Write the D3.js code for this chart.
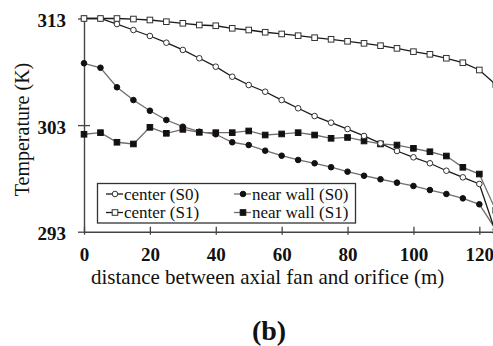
<!DOCTYPE html>
<html>
<head>
<meta charset="utf-8">
<script src="https://cdn.jsdelivr.net/npm/d3@7"></script>
<style>
  body { margin: 0; background: #fff; }
  svg { display: block; font-family: "Liberation Serif", "Times New Roman", serif; }
</style>
</head>
<body>
<div id="chart"></div>
<script>
const distance = [0, 5, 10, 15, 20, 25, 30, 35, 40, 45, 50, 55, 60, 65, 70, 75, 80, 85, 90, 95, 100, 105, 110, 115, 120, 125];

const centerS0 = [313.0, 313.0, 312.48, 311.92, 311.36, 310.73, 310.05, 309.27, 308.48, 307.54, 306.76, 306.13, 305.35,
  304.58, 303.85, 303.23, 302.63, 301.98, 301.29, 300.57, 299.98, 299.42, 298.72, 298.1, 297.48, 292.9];
const centerS1 = [313.0, 313.0, 313.0, 312.95, 312.86, 312.7, 312.55, 312.39, 312.32, 312.08, 311.92, 311.71, 311.55,
  311.39, 311.2, 311.05, 310.86, 310.67, 310.45, 310.2, 309.89, 309.64, 309.27, 308.85, 308.17, 306.8];
const nearWallS0 = [308.8, 308.38, 306.55, 305.35, 304.35, 303.48, 302.85, 302.38, 302.14, 301.39, 301.13, 300.6, 300.13,
  299.73, 299.42, 299.05, 298.63, 298.25, 297.92, 297.6, 297.29, 296.91, 296.54, 296.13, 295.57, 293.2];
const nearWallS1 = [302.14, 302.29, 301.39, 301.23, 302.79, 302.23, 302.6, 302.32, 302.29, 302.29, 302.45, 302.07, 302.17,
  302.29, 302.07, 301.76, 301.84, 301.51, 301.23, 301.13, 300.82, 300.5, 300.1, 299.04, 298.41, 295.0];

const xTicks = [0, 20, 40, 60, 80, 100, 120];
const yTicks = [293, 303, 313];

const width = 493;
const height = 346;

const svg = d3.select('#chart').append('svg')
  .attr('width', width)
  .attr('height', height);

const xScale = d3.scaleLinear().domain([0, 125]).range([84, 495.8]);
const yScale = d3.scaleLinear().domain([293, 313]).range([231.7, 18.5]);

// axes
const xAxis = svg.append('g')
  .attr('transform', 'translate(0,' + yScale(293) + ')')
  .call(d3.axisBottom(xScale).tickValues(xTicks).tickSize(0).tickPadding(15.5).tickFormat(d3.format('d')));
xAxis.select('.domain').attr('stroke', '#444').attr('stroke-width', 1.4);
xAxis.selectAll('.tick line').attr('y1', -5).attr('y2', 3).attr('stroke', '#444').attr('stroke-width', 1.3);
xAxis.selectAll('.tick text')
  .attr('font-family', '"Liberation Serif", serif')
  .attr('font-size', 19).attr('font-weight', 'bold').attr('fill', '#111');

const yAxis = svg.append('g')
  .attr('transform', 'translate(' + xScale(0) + ',0)')
  .call(d3.axisLeft(yScale).tickValues(yTicks).tickSize(0).tickPadding(18).tickFormat(d3.format('d')));
yAxis.select('.domain').attr('stroke', '#444').attr('stroke-width', 1.4);
yAxis.selectAll('.tick line')
  .attr('x1', -6).attr('x2', d => d === 303 ? 6 : 0)
  .attr('stroke', '#444').attr('stroke-width', 1.3);
yAxis.selectAll('.tick text')
  .attr('font-family', '"Liberation Serif", serif')
  .attr('font-size', 19).attr('font-weight', 'bold').attr('fill', '#111')
  .attr('dy', '0.42em');

// series
const series = [
  { name: 'near wall (S1)', values: nearWallS1, line: '#766d69', shape: 'square', fill: '#111' },
  { name: 'near wall (S0)', values: nearWallS0, line: '#766d69', shape: 'circle', fill: '#111' },
  { name: 'center (S0)', values: centerS0, line: '#1a1a1a', shape: 'circle', fill: '#fff' },
  { name: 'center (S1)', values: centerS1, line: '#1a1a1a', shape: 'square', fill: '#fff' }
];

const line = d3.line()
  .x((d, i) => xScale(distance[i]))
  .y(d => yScale(d));

function drawMarker(g, shape, fill, cx, cy) {
  if (shape === 'circle') {
    g.append('circle')
      .attr('cx', cx).attr('cy', cy).attr('r', 2.8)
      .attr('fill', fill).attr('stroke', fill === '#fff' ? '#333' : '#111').attr('stroke-width', 1);
  } else {
    g.append('rect')
      .attr('x', cx - 2.8).attr('y', cy - 2.8).attr('width', 5.6).attr('height', 5.6)
      .attr('fill', fill).attr('stroke', fill === '#fff' ? '#333' : '#111').attr('stroke-width', 1);
  }
}

series.forEach(s => {
  const g = svg.append('g');
  g.append('path')
    .datum(s.values)
    .attr('d', line)
    .attr('fill', 'none')
    .attr('stroke', s.line)
    .attr('stroke-width', 1.3);
  s.values.forEach((v, i) => {
    drawMarker(g, s.shape, s.fill, xScale(distance[i]), yScale(v));
  });
});

// legend
const legend = svg.append('g');
legend.append('rect')
  .attr('x', 97.5).attr('y', 183.5).attr('width', 258).attr('height', 39.5)
  .attr('fill', '#fff').attr('stroke', '#333').attr('stroke-width', 1.3);

const legendItems = [
  { s: series[2], x: 106, y: 194 },
  { s: series[1], x: 234, y: 194 },
  { s: series[3], x: 106, y: 212.5 },
  { s: series[0], x: 234, y: 212.5 }
];
legendItems.forEach(item => {
  legend.append('line')
    .attr('x1', item.x).attr('x2', item.x + 17)
    .attr('y1', item.y).attr('y2', item.y)
    .attr('stroke', item.s.line).attr('stroke-width', 1.3);
  drawMarker(legend, item.s.shape, item.s.fill, item.x + 9, item.y);
  legend.append('text')
    .attr('x', item.x + 18).attr('y', item.y + 5.5)
    .attr('font-size', 17).attr('fill', '#111')
    .text(item.s.name);
});

// titles
svg.append('text')
  .attr('x', 91).attr('y', 284)
  .attr('font-size', 21).attr('fill', '#111')
  .text('distance between axial fan and orifice (m)');

svg.append('text')
  .attr('transform', 'translate(29,129.5) rotate(-90)')
  .attr('text-anchor', 'middle')
  .attr('font-size', 20).attr('fill', '#111')
  .text('Temperature (K)');

svg.append('text')
  .attr('x', 269).attr('y', 340)
  .attr('text-anchor', 'middle')
  .attr('font-size', 28).attr('font-weight', 'bold').attr('fill', '#111')
  .text('(b)');
</script>
</body>
</html>
